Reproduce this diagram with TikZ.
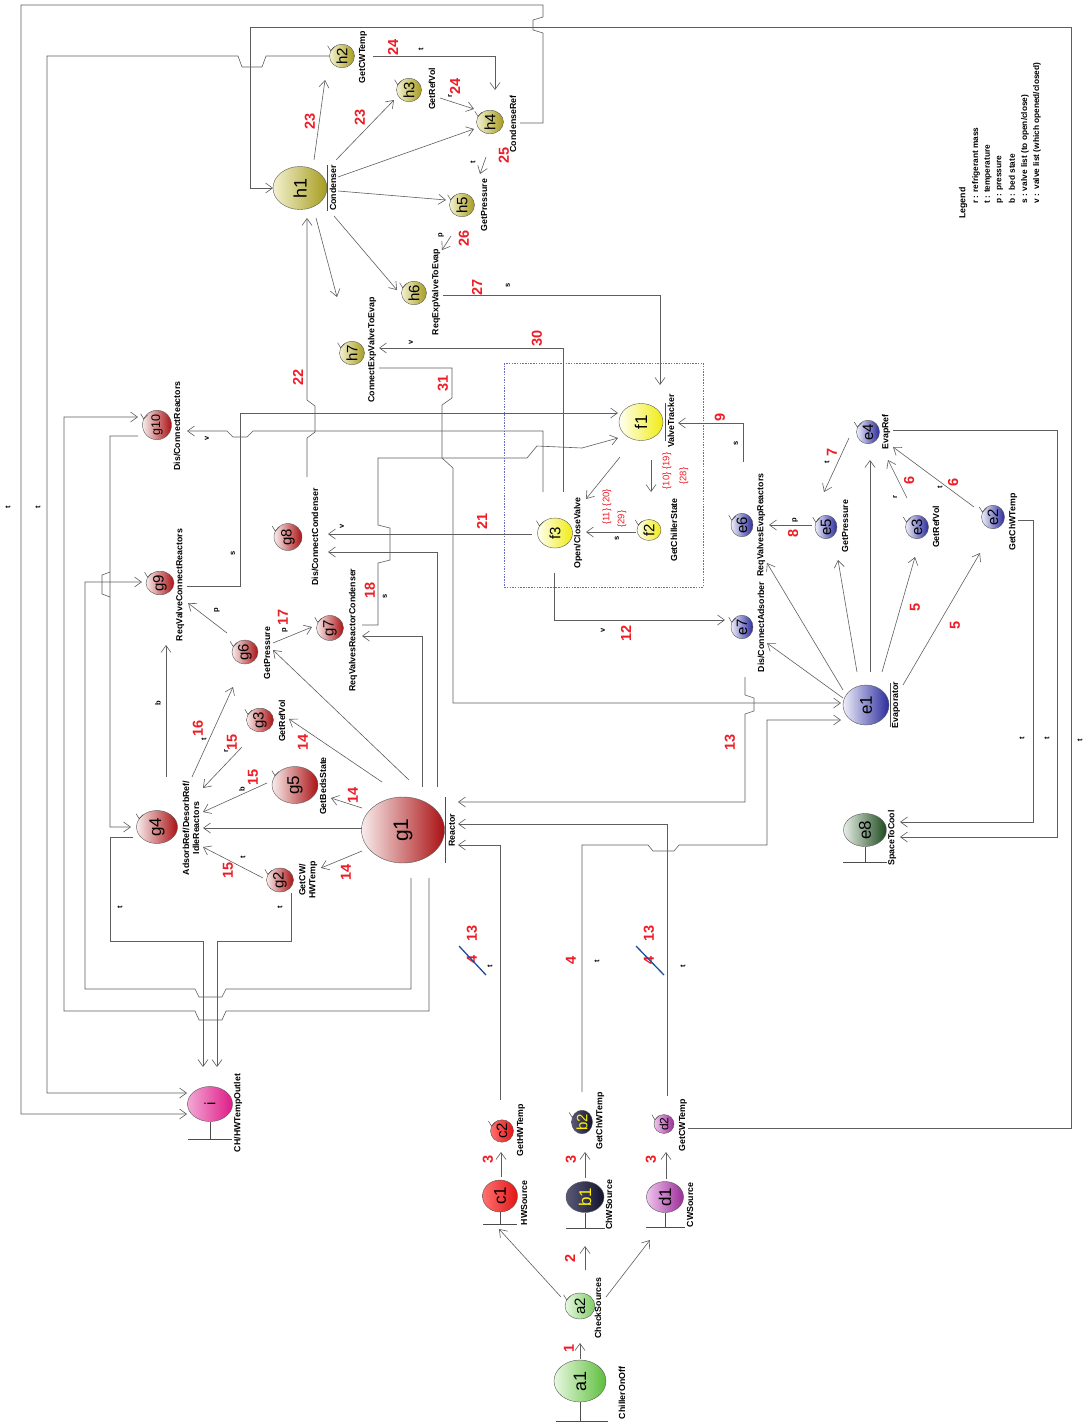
\documentclass[tikz,border=0pt]{standalone}
\usepackage{fontspec}
\usepackage{graphicx}
\setmainfont{Liberation Sans}
\usetikzlibrary{arrows.meta,shapes.geometric}
\definecolor{lnc}{HTML}{5E5E5E}
\definecolor{rednum}{HTML}{EE1C25}
\definecolor{olL}{HTML}{F3F1CF}\definecolor{olR}{HTML}{A69C1F}
\definecolor{yeL}{HTML}{FFFFF2}\definecolor{yeR}{HTML}{F0EC12}
\definecolor{blL}{HTML}{EEEEFA}\definecolor{blR}{HTML}{2B2B9E}
\definecolor{rdL}{HTML}{F8ECEC}\definecolor{rdR}{HTML}{AA1214}
\definecolor{pkL}{HTML}{F3A8D6}\definecolor{pkR}{HTML}{DF1A86}
\definecolor{crL}{HTML}{FF7070}\definecolor{crR}{HTML}{E31515}
\definecolor{nvL}{HTML}{5A5A78}\definecolor{nvR}{HTML}{12122E}
\definecolor{puL}{HTML}{F0C4EE}\definecolor{puR}{HTML}{9B2C98}
\definecolor{gnL}{HTML}{E8F8E0}\definecolor{gnR}{HTML}{5DBE3C}
\definecolor{dgL}{HTML}{E6EEE6}\definecolor{dgR}{HTML}{1E4B1E}
\definecolor{dashc}{HTML}{6A6AC8}
\definecolor{slashc}{HTML}{1F4E9A}
\newcommand\rtx[1]{\rotatebox{90}{#1}}
\begin{document}
\begin{tikzpicture}[x=1pt,y=-1pt,
  obj/.style 2 args={ellipse, draw=gray!70!black, line width=0.4pt, inner sep=0pt, left color=#1, right color=#2, font=\fontsize{15}{15}\selectfont},
  sz/.style 2 args={minimum width=#1pt, minimum height=#2pt},
  lbl/.style={rotate=90, inner sep=0pt, font=\fontsize{8.8}{10}\selectfont\bfseries, align=center},
  num/.style={rotate=90, inner sep=0pt, font=\fontsize{14.5}{14.5}\selectfont\bfseries, text=rednum},
  snum/.style={rotate=90, inner sep=0pt, font=\fontsize{9.5}{9.5}\selectfont, text=rednum},
  sm/.style={rotate=90, inner sep=0pt, font=\fontsize{7.5}{7.5}\selectfont\bfseries},
  leg/.style={rotate=90, inner sep=0pt, anchor=west, font=\fontsize{8.3}{9}\selectfont\bfseries},
  ln/.style={draw=lnc, line width=0.6pt},
  arr/.style={ln, -{Straight Barb[length=7pt,width=10pt]}},
  tk/.style={draw=gray!60!black, line width=0.5pt},
  bar/.style={draw=gray!60!black, line width=0.7pt}]
\useasboundingbox[fill=white] (0,0) rectangle (1083,1427);

% ---------- nodes ----------
\node[obj={gnL}{gnR}, sz={52}{42}, font=\fontsize{18}{18}\selectfont] (a1) at (580,1381) {\rtx{a1}};
\node[obj={gnL}{gnR!80!white}, sz={30}{26}] (a2) at (580,1306) {\rtx{a2}};
\node[obj={nvL}{nvR}, sz={38}{31}, text=yellow, font=\fontsize{17}{17}\selectfont] (b1) at (585,1197) {\rtx{b1}};
\node[obj={nvL}{nvR}, sz={21}{19}, text=yellow] (b2) at (582,1122) {\rtx{b2}};
\node[obj={crL}{crR}, sz={35}{32}, font=\fontsize{17}{17}\selectfont] (c1) at (500,1196) {\rtx{c1}};
\node[obj={crL}{crR}, sz={23}{21}] (c2) at (502,1131) {\rtx{c2}};
\node[obj={puL}{puR}, sz={37}{31}, font=\fontsize{17}{17}\selectfont] (d1) at (665,1197) {\rtx{d1}};
\node[obj={puL}{puR}, sz={20}{17}, font=\fontsize{12}{12}\selectfont] (d2) at (664,1124) {\rtx{d2}};
\node[obj={pkL}{pkR}, sz={45}{35}] (i) at (210,1104) {\rtx{i}};

\node[obj={blL}{blR}, sz={46}{40}, font=\fontsize{17}{17}\selectfont] (e1) at (866,705) {\rtx{e1}};
\node[obj={blL}{blR}, sz={23}{20}] (e2) at (993,517) {\rtx{e2}};
\node[obj={blL}{blR}, sz={23}{20}] (e3) at (917,527) {\rtx{e3}};
\node[obj={blL}{blR}, sz={23}{21}] (e4) at (868,432) {\rtx{e4}};
\node[obj={blL}{blR}, sz={22}{19}] (e5) at (826,527) {\rtx{e5}};
\node[obj={blL}{blR}, sz={22}{19}] (e6) at (742,525) {\rtx{e6}};
\node[obj={blL}{blR}, sz={22}{21}] (e7) at (742,627) {\rtx{e7}};
\node[obj={dgL}{dgR}, sz={43}{33}, font=\fontsize{17}{17}\selectfont] (e8) at (865,830) {\rtx{e8}};

\node[obj={yeL}{yeR}, sz={44}{37}, font=\fontsize{17}{17}\selectfont] (f1) at (641,422) {\rtx{f1}};
\node[obj={yeL}{yeR}, sz={24}{21}] (f2) at (649,530) {\rtx{f2}};
\node[obj={yeL}{yeR}, sz={35}{30}] (f3) at (555,533) {\rtx{f3}};

\node[obj={rdL}{rdR}, sz={83}{66}, font=\fontsize{21}{21}\selectfont] (g1) at (403,830) {\rtx{g1}};
\node[obj={rdL}{rdR}, sz={27}{24}] (g2) at (280,880) {\rtx{g2}};
\node[obj={rdL}{rdR}, sz={27}{23}] (g3) at (260,720) {\rtx{g3}};
\node[obj={rdL}{rdR}, sz={41}{33}, font=\fontsize{17}{17}\selectfont] (g4) at (157,827) {\rtx{g4}};
\node[obj={rdL}{rdR}, sz={46}{37}, font=\fontsize{17}{17}\selectfont] (g5) at (295,785) {\rtx{g5}};
\node[obj={rdL}{rdR}, sz={26}{24}] (g6) at (245,652) {\rtx{g6}};
\node[obj={rdL}{rdR}, sz={27}{25}] (g7) at (330,628) {\rtx{g7}};
\node[obj={rdL}{rdR}, sz={28}{27}] (g8) at (288,537) {\rtx{g8}};
\node[obj={rdL}{rdR}, sz={28}{23}] (g9) at (160,583) {\rtx{g9}};
\node[obj={rdL}{rdR}, sz={29}{23}, font=\fontsize{12.5}{12.5}\selectfont] (g10) at (157,425) {\rtx{g10}};

\node[obj={olL}{olR}, sz={54}{43}, font=\fontsize{18}{18}\selectfont] (h1) at (300,188) {\rtx{h1}};
\node[obj={olL}{olR}, sz={25}{21}] (h2) at (342,56) {\rtx{h2}};
\node[obj={olL}{olR}, sz={25}{21}] (h3) at (409,90) {\rtx{h3}};
\node[obj={olL}{olR}, sz={27}{23}] (h4) at (490,122) {\rtx{h4}};
\node[obj={olL}{olR}, sz={25}{21}] (h5) at (462,205) {\rtx{h5}};
\node[obj={olL}{olR}, sz={25}{21}] (h6) at (414,293) {\rtx{h6}};
\node[obj={olL}{olR}, sz={25}{21}] (h7) at (352,353) {\rtx{h7}};

% control ticks
\foreach \n in {a2,b2,c2,d2,e2,e3,e4,e5,e6,e7,f2,f3,g2,g3,g4,g5,g6,g7,g8,g9,g10,h2,h3,h4,h5,h6,h7}
  \draw[tk] (\n.155) ++(-3,-5) -- (\n.155) -- ++(4,-4);
% entity bars
\draw[bar] (327,165) -- (327,211);
\draw[bar] (665,403) -- (665,441);
\draw[bar] (890,683) -- (890,727);
\draw[bar] (445,797) -- (445,863);
% boundary bars
\draw[bar] (a1.south) -- (580,1421) (556,1421) -- (608,1421);
\draw[bar] (b1.south) -- (585,1228) (566,1228) -- (605,1228);
\draw[bar] (c1.south) -- (500,1224) (483,1224) -- (517,1224);
\draw[bar] (d1.south) -- (665,1227) (646,1227) -- (685,1227);
\draw[bar] (i.south) -- (210,1139) (188,1139) -- (232,1139);
\draw[bar] (e8.south) -- (865,862) (843,862) -- (887,862);

% ---------- labels ----------
\node[lbl] (la1) at (622,1393) {ChillerOnOff};
\node[lbl] (la2) at (598,1308) {CheckSources};
\node[lbl] (lb1) at (609,1205) {ChWSource};
\node[lbl] (lb2) at (600,1121) {GetChWTemp};
\node[lbl] (lc1) at (524,1203) {HWSource};
\node[lbl] (lc2) at (521,1130) {GetHWTemp};
\node[lbl] (ld1) at (690,1205) {CWSource};
\node[lbl] (ld2) at (683,1125) {GetCWTemp};
\node[lbl] (li) at (238,1113) {CH/HWTempOutlet};
\node[lbl] (le1) at (896,705) {Evaporator};
\node[lbl] (le2) at (1013,522) {GetChWTemp};
\node[lbl] (le3) at (936,527) {GetRefVol};
\node[lbl] (le4) at (886,432) {EvapRef};
\node[lbl] (le5) at (845,526) {GetPressure};
\node[lbl] (le6) at (761,525) {ReqValvesEvapReactors};
\node[lbl] (le7) at (761,627) {Dis/ConnectAdsorber};
\node[lbl] (le8) at (892,838) {SpaceToCool};
\node[lbl] (lf1) at (671,421) {ValveTracker};
\node[lbl] (lf2) at (674,530) {GetChillerState};
\node[lbl] (lf3) at (578,533) {Open/CloseValve};
\node[lbl] (lg1) at (452,830) {Reactor};
\node[lbl] (lg2) at (308,880) {GetCW/\\HWTemp};
\node[lbl] (lg3) at (282,721) {GetRefVol};
\node[lbl] (lg4) at (191,828) {AdsorbRef/DesorbRef/\\IdleReactors};
\node[lbl] (lg5) at (323,786) {GetBedsState};
\node[lbl] (lg6) at (267,653) {GetPressure};
\node[lbl] (lg7) at (353,630) {ReqValvesReactorCondenser};
\node[lbl] (lg8) at (315,537) {Dis/ConnectCondenser};
\node[lbl] (lg9) at (180,585) {ReqValveConnectReactors};
\node[lbl] (lg10) at (177,426) {Dis/ConnectReactors};
\node[lbl] (lh1) at (333,188) {Condenser};
\node[lbl] (lh2) at (363,57) {GetCWTemp};
\node[lbl] (lh3) at (432,89) {GetRefVol};
\node[lbl] (lh4) at (513,124) {CondenseRef};
\node[lbl] (lh5) at (484,205) {GetPressure};
\node[lbl] (lh6) at (436,292) {ReqExpValveToEvap};
\node[lbl] (lh7) at (372,350) {ConnectExpValveToEvap};

% legend
\node[leg, font=\fontsize{8.8}{9}\selectfont\bfseries] (lgT) at (963,219) {Legend};
\node[leg] (lgr) at (976,204) {r : refrigerant mass};
\node[leg] (lgt) at (988,204) {t : temperature};
\node[leg] (lgp) at (1000,204) {p : pressure};
\node[leg] (lgb) at (1012,204) {b : bed state};
\node[leg] (lgs) at (1025,204) {s : valve list (to open/close)};
\node[leg] (lgv) at (1037,204) {v :\ \ valve list (which opened/closed)};

% dashed group
\draw[dashc, line width=0.5pt, dash pattern=on 1.5pt off 1.2pt] (504,363) rectangle (703,587);

% ---------- connectors ----------
% start
\draw[arr] (a1) ++(0,-22) -- (580,1343);
\draw[arr] (561,1297) -- (499,1229);
\draw[arr] (585,1270) -- (585,1246);
\draw[arr] (606,1297) -- (650,1240);
\draw[arr] (501,1177) -- (501,1152);
\draw[arr] (585,1178) -- (585,1152);
\draw[arr] (666,1179) -- (666,1152);
% sources to reactor / evaporator
\draw[arr] (500,1100) -- (500,845) -- (458,845);
\draw[arr] (582,1092) -- (582,845) -- (648,845) -- (653,851) -- (674,851) -- (679,845) -- (767,845) -- (767,720) -- (841,720);
\draw[arr] (667,1096) -- (667,824) -- (458,824);
\draw[arr] (745,677) -- (745,695) -- (754,698) -- (754,711) -- (745,714) -- (745,802) -- (458,802);
\draw[arr] (379,368) -- (452,368) -- (452,398) -- (442,405) -- (442,458) -- (453,468) -- (453,703) -- (841,703);
% outer loops
\draw[arr] (688,1128) -- (1071,1128) -- (1071,27) -- (250,27) -- (250,188) -- (273,188);
\draw[arr] (520,123) -- (543,123) -- (543,33) -- (533,30) -- (533,20) -- (543,17) -- (543,5) -- (21,5) -- (21,1114) -- (187,1114);
\draw[arr] (329,56) -- (266,56) -- (262,67) -- (242,67) -- (238,56) -- (47,56) -- (47,1093) -- (187,1093);
% condenser cluster
\draw[arr] (373,56) -- (495,56) -- (495,90);
\draw[arr] (440,98) -- (474,109);
\draw[arr] (314,160) -- (325,80);
\draw[arr] (336,160) -- (394,100);
\draw[arr] (338,177) -- (474,129);
\draw[arr] (338,191) -- (446,200);
\draw[arr] (334,216) -- (397,290);
\draw[arr] (316,218) -- (337,297);
\draw[arr] (486,157) -- (480,174);
\draw[arr] (451,236) -- (442,250);
\draw[arr] (443,295) -- (660,295) -- (660,385);
\draw[arr] (563,492) -- (563,348) -- (379,348);
\draw[arr] (307,477) -- (307,438) -- (315,432) -- (315,406) -- (307,400) -- (307,218);
% valve tracker cluster
\draw[arr] (543,492) -- (543,431) -- (253,431) -- (247,437) -- (233,437) -- (227,431) -- (187,431);
\draw[arr] (187,586) -- (240,586) -- (240,413) -- (618,413);
\draw[arr] (362,625) -- (378,625) -- (378,563) -- (390,560) -- (390,528) -- (378,525) -- (378,458) -- (527,458) -- (537,446) -- (582,448) -- (618,438);
\draw[arr] (532,534) -- (328,534);
\draw[arr] (437,787) -- (437,552) -- (328,552);
\draw[arr] (422,787) -- (422,636) -- (362,636);
\draw[arr] (554,573) -- (554,620) -- (725,620);
\draw[arr] (636,532) -- (586,532);
\draw[arr] (651,460) -- (651,492);
\draw[arr] (620,457) -- (586,499);
\draw[arr] (743,462) -- (743,423) -- (678,423);
% evaporator cluster
\draw[arr] (812,525) -- (769,525);
\draw[arr] (849,438) -- (824,492);
\draw[arr] (907,498) -- (888,460);
\draw[arr] (974,507) -- (893,447);
\draw[arr] (903,685) -- (980,553);
\draw[arr] (882,672) -- (915,557);
\draw[arr] (870,672) -- (870,460);
\draw[arr] (857,672) -- (838,560);
\draw[arr] (843,690) -- (767,563);
\draw[arr] (843,698) -- (767,643);
\draw[arr] (893,430) -- (1057,430) -- (1057,837) -- (900,837);
\draw[arr] (1018,520) -- (1033,520) -- (1033,822) -- (900,822);
% reactor cluster
\draw[arr] (362,851) -- (321,868);
\draw[arr] (362,808) -- (331,798);
\draw[arr] (382,782) -- (289,719);
\draw[arr] (409,780) -- (273,650);
\draw[arr] (362,828) -- (203,828);
\draw[arr] (267,783) -- (203,812);
\draw[arr] (242,747) -- (203,788);
\draw[arr] (192,777) -- (233,687);
\draw[arr] (166,777) -- (166,645);
\draw[arr] (263,878) -- (203,847);
\draw[arr] (227,633) -- (188,603);
\draw[arr] (273,643) -- (312,627);
\draw[arr] (138,436) -- (110,436) -- (110,597) -- (102,594) -- (102,575) -- (110,572) -- (110,827) -- (131,827);
\draw[arr] (133,837) -- (110,837) -- (110,941) -- (203,941) -- (203,1067);
\draw[arr] (291,893) -- (291,941) -- (217,941) -- (217,1067);
\draw[arr] (411,878) -- (411,989) -- (226,989) -- (222,997) -- (199,997) -- (195,989) -- (85,989) -- (85,582) -- (142,582);
\draw[arr] (429,878) -- (429,1011) -- (226,1011) -- (222,1020) -- (199,1020) -- (195,1011) -- (64,1011) -- (64,417) -- (138,417);

% ---------- connector labels ----------
\node[num] (n1) at (569,1348) {1};
\node[num] (n2) at (570,1258) {2};
\node[num] (n3a) at (488,1159) {3};
\node[num] (n3b) at (571,1159) {3};
\node[num] (n3c) at (651,1159) {3};
\node[num] (n4b) at (571,960) {4};
\node[sm] (tb) at (597,961) {t};
\node[num] (n4c) at (472,959) {4};
\node[num] (n13c) at (472,933) {13};
\draw[slashc, line width=1.3pt] (459,946) -- (486,975);
\node[sm] (tc) at (490,966) {t};
\node[num] (n4d) at (649,960) {4};
\node[num] (n13d) at (649,933) {13};
\draw[slashc, line width=1.3pt] (636,946) -- (664,975);
\node[sm] (td) at (683,966) {t};
\node[num] (n13e) at (730,742) {13};
\node[num] (n31) at (443,383) {31};
\node[sm] (tR) at (1080,740) {t};
\node[sm] (tL1) at (8,507) {t};
\node[sm] (tL2) at (38,507) {t};
\node[num] (n24a) at (393,47) {24};
\node[sm] (t24) at (421,49) {t};
\node[num] (n24b) at (455,86) {24};
\node[sm] (r24) at (450,96) {r};
\node[num] (n23a) at (310,121) {23};
\node[num] (n23b) at (360,117) {23};
\node[num] (n25) at (504,155) {25};
\node[sm] (t25) at (473,162) {t};
\node[num] (n26) at (464,238) {26};
\node[sm] (p26) at (441,235) {p};
\node[num] (n27) at (477,287) {27};
\node[sm] (s27) at (508,285) {s};
\node[num] (n30) at (537,338) {30};
\node[sm] (v30) at (411,342) {v};
\node[num] (n22) at (298,377) {22};
\node[sm] (v10) at (207,438) {v};
\node[sm] (s9) at (233,553) {s};
\node[num] (n18) at (370,590) {18};
\node[sm] (s18) at (385,596) {s};
\node[num] (n21) at (482,521) {21};
\node[sm] (v21) at (342,526) {v};
\node[sm] (v12) at (603,630) {v};
\node[num] (n12) at (626,633) {12};
\node[sm] (sf) at (617,538) {s};
\node[snum] (n1120) at (607,507) {\{11\} \{20\}};
\node[snum] (n29) at (622,519) {\{29\}};
\node[snum] (n1019) at (667,471) {\{10\} \{19\}};
\node[snum] (n28) at (684,476) {\{28\}};
\node[num] (n9) at (720,417) {9};
\node[sm] (s9e) at (736,443) {s};
\node[num] (n8) at (793,533) {8};
\node[sm] (p8) at (795,520) {p};
\node[num] (n7) at (832,452) {7};
\node[sm] (t7) at (827,462) {t};
\node[num] (n6a) at (909,480) {6};
\node[sm] (r6) at (895,497) {r};
\node[num] (n6b) at (953,482) {6};
\node[sm] (t6) at (940,487) {t};
\node[num] (n5a) at (955,625) {5};
\node[num] (n5b) at (915,607) {5};
\node[sm] (te1) at (1022,738) {t};
\node[sm] (te2) at (1047,738) {t};
\node[num] (n14a) at (346,872) {14};
\node[num] (n14b) at (353,795) {14};
\node[num] (n14c) at (303,742) {14};
\node[num] (n15a) at (253,777) {15};
\node[sm] (b15) at (242,789) {b};
\node[num] (n15b) at (232,742) {15};
\node[sm] (r15) at (226,751) {r};
\node[num] (n16) at (198,728) {16};
\node[sm] (t16) at (204,739) {t};
\node[sm] (bg4) at (158,703) {b};
\node[num] (n15c) at (228,870) {15};
\node[sm] (t15) at (243,857) {t};
\node[sm] (pg6) at (217,610) {p};
\node[num] (n17) at (283,617) {17};
\node[sm] (p17) at (285,630) {p};
\node[sm] (tg4) at (120,907) {t};
\node[sm] (tg2) at (280,907) {t};
\end{tikzpicture}
\end{document}
